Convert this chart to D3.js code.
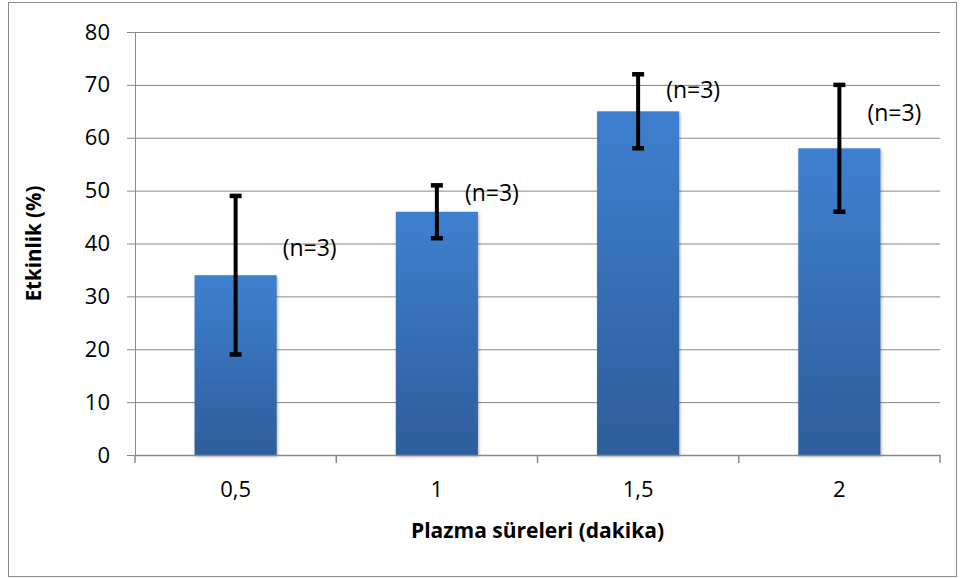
<!DOCTYPE html>
<html><head><meta charset="utf-8">
<script src="https://cdn.jsdelivr.net/npm/d3@7"></script>
<style>body{margin:0;background:#fff}svg{display:block}text{font-family:"Open Sans","Noto Sans",sans-serif}</style>
</head><body><svg id="c" width="960" height="578"></svg>
<script>
const categories = ["0,5", "1", "1,5", "2"];
const values = [34, 46, 65, 58];
const errLow = [19, 41, 58, 46];
const errHigh = [49, 51, 72, 70];
const labels = ["(n=3)", "(n=3)", "(n=3)", "(n=3)"];
const labelAt = [39.2, 49.5, 69, 64.6];
const yTicks = [0, 10, 20, 30, 40, 50, 60, 70, 80];

const svg = d3.select("#c");
const L = 135, R = 940, T = 32, B = 455;
svg.append("rect").attr("x", 8.5).attr("y", 2.5).attr("width", 948).attr("height", 574)
  .attr("fill", "#fff").attr("stroke", "#8c8c8c").attr("stroke-width", 1);

const x = d3.scaleBand().domain(categories).range([L, R]).padding(0);
const y = d3.scaleLinear().domain([0, 80]).range([B, T]);
const bw = x.bandwidth() / 2.45;

const defs = svg.append("defs");
const g = defs.append("linearGradient").attr("id", "bg").attr("x1", 0).attr("y1", 0).attr("x2", 0).attr("y2", 1);
g.append("stop").attr("offset", "0%").attr("stop-color", "#3e80d0");
g.append("stop").attr("offset", "100%").attr("stop-color", "#2e5d9b");
const f = defs.append("filter").attr("id", "sh").attr("x", "-10%").attr("y", "-10%").attr("width", "130%").attr("height", "130%");
f.append("feDropShadow").attr("dx", 1).attr("dy", 1.5).attr("stdDeviation", 1.5).attr("flood-color", "#000").attr("flood-opacity", 0.3);

// gridlines + y ticks
const ya = svg.append("g").attr("transform", `translate(${L},0)`)
  .call(d3.axisLeft(y).tickValues(yTicks).tickSize(8).tickPadding(17));
ya.attr("font-family", null);
ya.select(".domain").attr("stroke", "#888");
ya.selectAll(".tick line").attr("stroke", "#888");
ya.selectAll(".tick text").attr("font-size", 22).attr("fill", "#000");
svg.append("g").selectAll("line").data(yTicks.filter(d => d > 0)).join("line")
  .attr("x1", L).attr("x2", R).attr("y1", d => y(d) + 0.5).attr("y2", d => y(d) + 0.5)
  .attr("stroke", "#888").attr("stroke-width", 1);

// bars
svg.append("g").selectAll("rect").data(values).join("rect")
  .attr("x", (d, i) => x(categories[i]) + x.bandwidth() / 2 - bw / 2)
  .attr("y", d => y(d)).attr("width", bw).attr("height", d => B - y(d))
  .attr("fill", "url(#bg)").attr("filter", "url(#sh)");

// x axis
const xa = svg.append("g").attr("transform", `translate(0,${B})`)
  .call(d3.axisBottom(x).tickSize(0).tickPadding(26));
xa.attr("font-family", null);
xa.select(".domain").attr("stroke", "#888").attr("stroke-width", 1.5);
xa.selectAll(".tick text").attr("font-size", 22).attr("fill", "#000");
svg.append("g").selectAll("line").data([...categories.map(c => x(c)), R]).join("line")
  .attr("x1", d => d).attr("x2", d => d).attr("y1", B).attr("y2", B + 8)
  .attr("stroke", "#888").attr("stroke-width", 1.5);

// error bars
const eb = svg.append("g").selectAll("g").data(values).join("g")
  .attr("transform", (d, i) => `translate(${x(categories[i]) + x.bandwidth() / 2},0)`);
eb.append("line").attr("x1", 0).attr("x2", 0).attr("y1", (d, i) => y(errLow[i])).attr("y2", (d, i) => y(errHigh[i]))
  .attr("stroke", "#000").attr("stroke-width", 4);
eb.append("line").attr("x1", -6).attr("x2", 6).attr("y1", (d, i) => y(errLow[i])).attr("y2", (d, i) => y(errLow[i]))
  .attr("stroke", "#000").attr("stroke-width", 4.5);
eb.append("line").attr("x1", -6).attr("x2", 6).attr("y1", (d, i) => y(errHigh[i])).attr("y2", (d, i) => y(errHigh[i]))
  .attr("stroke", "#000").attr("stroke-width", 4.5);

// labels
svg.append("g").selectAll("text").data(labels).join("text")
  .attr("x", (d, i) => x(categories[i]) + x.bandwidth() / 2 + (i === 0 ? 47 : 28))
  .attr("y", (d, i) => y(labelAt[i])).attr("dy", "0.35em")
  .attr("font-size", 23).attr("fill", "#000").text(d => d);

// titles
svg.append("text").attr("x", (L + R) / 2).attr("y", 531).attr("dy", "0.35em").attr("text-anchor", "middle")
  .attr("font-size", 21).attr("font-weight", "bold").attr("fill", "#000").text("Plazma süreleri (dakika)");
svg.append("text").attr("transform", `translate(34,${(T + B) / 2}) rotate(-90)`).attr("dy", "0.35em").attr("text-anchor", "middle")
  .attr("font-size", 20.5).attr("font-weight", "bold").attr("fill", "#000").text("Etkinlik (%)");
</script></body></html>
